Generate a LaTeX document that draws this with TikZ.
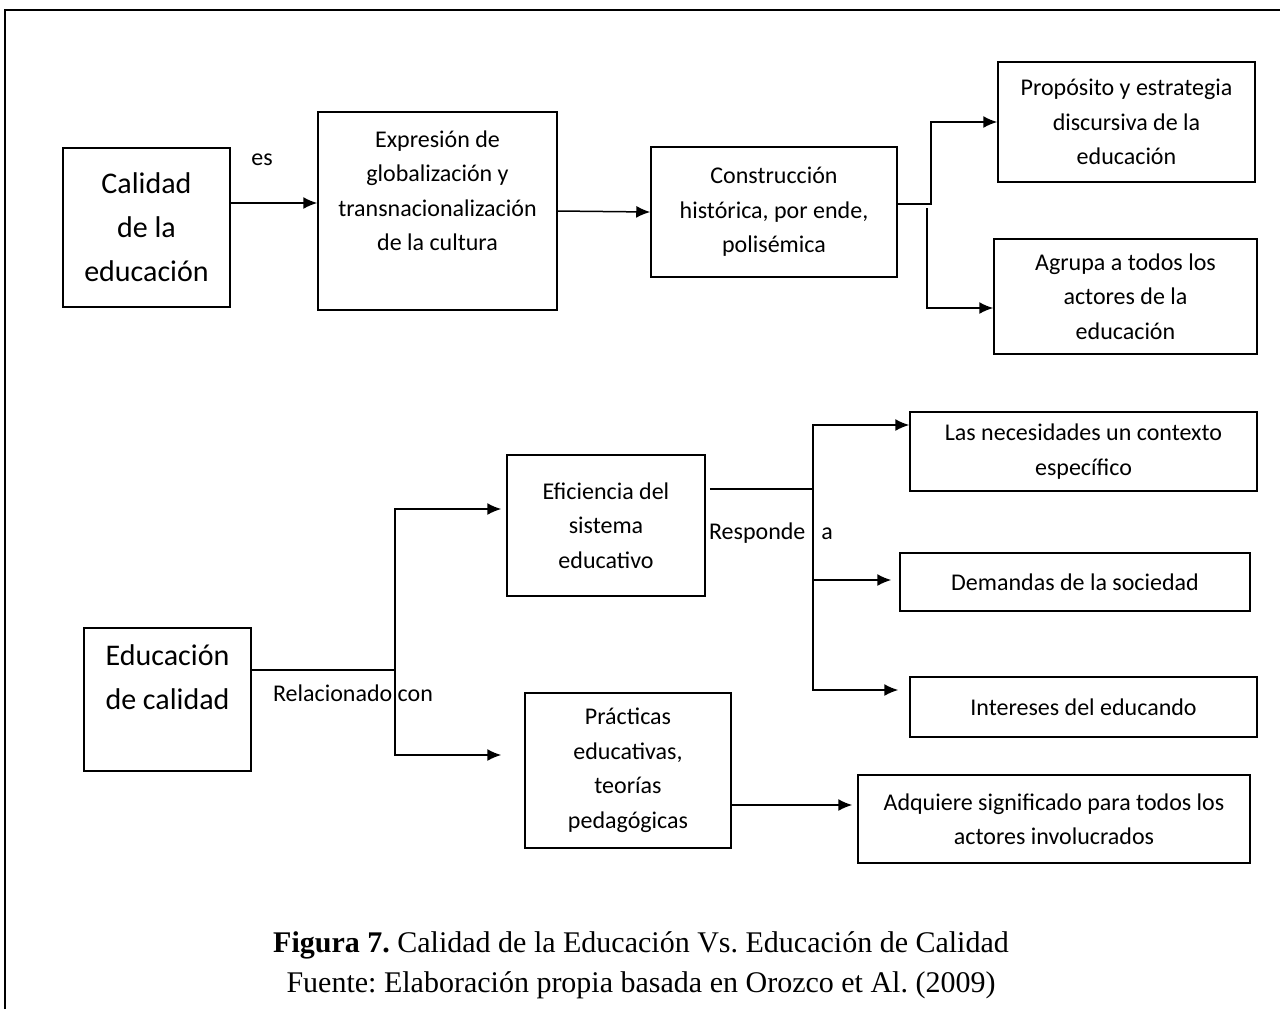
\documentclass[tikz,border=0pt]{standalone}
\usepackage{fontspec}
\setmainfont{Carlito}
\newfontfamily\tnr{Liberation Serif}
\usetikzlibrary{arrows.meta}
\frenchspacing
\tikzset{
  caja/.style={draw, line width=0.75pt, inner sep=0pt, align=center,
    font=\fontsize{12}{17.25}\selectfont},
  cajagrande/.style={caja, font=\fontsize{15}{22}\selectfont},
  flecha/.style={line width=0.75pt, -{Latex[length=7pt,width=6pt]}},
  linea/.style={line width=0.75pt},
  etiqueta/.style={inner sep=0pt, font=\fontsize{12}{14}\selectfont},
  pie/.style={inner sep=0pt, font=\tnr\fontsize{15}{18}\selectfont}
}
\begin{document}
\begin{tikzpicture}[x=0.5pt, y=-0.5pt]
      \useasboundingbox (0,0) rectangle (1282,1009);
      \draw[line width=1.2pt] (5,1009) -- (5,10) -- (1280,10);
      \node[cajagrande, minimum width=83.5pt, minimum height=79.5pt] (calidad) at (146.5,227.5) {Calidad\\ de la\\ educación};
      \node[caja, minimum width=119.5pt, minimum height=99pt] (expresion) at (437.5,211) {Expresión de\\ globalización y\\ transnacionalización\\ de la cultura\\[3.25pt]\mbox{}};
      \node[caja, minimum width=123pt, minimum height=65pt] (construccion) at (774,212) {Construcción\\ histórica, por ende,\\ polisémica};
      \node[caja, minimum width=128.5pt, minimum height=60pt] (proposito) at (1126.5,122) {Propósito y estrategia\\ discursiva de la\\ educación};
      \node[caja, minimum width=131.5pt, minimum height=57.5pt] (agrupa) at (1125.5,296.5) {Agrupa a todos los\\ actores de la\\ educación};
      \node[etiqueta] (es) at (262,160) {es};
      \draw[flecha] ([yshift=12.25pt]calidad.east) -- ([yshift=4pt]expresion.west);
      \draw[flecha] (expresion.east) -- (construccion.west);
      \draw[flecha] ([yshift=4pt]construccion.east) -- ++(33,0) |- (proposito.west);
      \draw[flecha] ([shift={(29,-4)}]construccion.east) |- ([yshift=-5.75pt]agrupa.west);
      \node[cajagrande, minimum width=83.5pt, minimum height=71.5pt] (educacion) at (167.5,699.5) {Educación\\ de calidad\\ \mbox{}};
      \node[caja, minimum width=99pt, minimum height=70.5pt] (eficiencia) at (606,525.5) {Eficiencia del\\ sistema\\ educativo};
      \node[caja, minimum width=103pt, minimum height=77.5pt] (practicas) at (628,770.5) {Prácticas\\ educativas,\\ teorías\\ pedagógicas};
      \node[caja, minimum width=173.5pt, minimum height=39.5pt] (necesidades) at (1083.5,451.5) {Las necesidades un contexto\\ específico};
      \node[caja, minimum width=175pt, minimum height=29pt] (demandas) at (1075,582) {Demandas de la sociedad};
      \node[caja, minimum width=173.5pt, minimum height=30pt] (intereses) at (1083.5,707) {Intereses del educando};
      \node[caja, minimum width=196pt, minimum height=44pt] (adquiere) at (1054,819) {Adquiere significado para todos los\\ actores involucrados};
      \node[etiqueta] (relacionado) at (353,693) {Relacionado con};
      \node[etiqueta] (responde) at (771,533) {Responde\hspace{8pt}a};
      \coordinate (rel) at ([shift={(143,-29.5)}]educacion.east);
      \coordinate (resp) at ([shift={(107,-36.5)}]eficiencia.east);
      \draw[linea] ([yshift=14.75pt]educacion.east) -- (rel);
      \draw[flecha] (rel) |- ([shift={(-5,-16.5)}]eficiencia.west);
      \draw[flecha] (rel) |- ([shift={(-23,-15.5)}]practicas.west);
      \draw[linea] ([shift={(4,-36.5)}]eficiencia.east) -- (resp);
      \draw[flecha] (resp) |- ([yshift=13.25pt]necesidades.west);
      \draw[flecha] (resp) |- ([shift={(-8,-2)}]demandas.west);
      \draw[flecha] (resp) |- ([shift={(-11,-17)}]intereses.west);
      \draw[flecha] ([yshift=-17.25pt]practicas.east) -- ([shift={(-5,-14)}]adquiere.west);
      \node[pie] (figura) at (641,945) {\textbf{Figura 7.} Calidad de la Educación Vs. Educación de Calidad};
      \node[pie] (fuente) at (641,985) {Fuente: Elaboración propia basada en Orozco et Al. (2009)};
\end{tikzpicture}
\end{document}
